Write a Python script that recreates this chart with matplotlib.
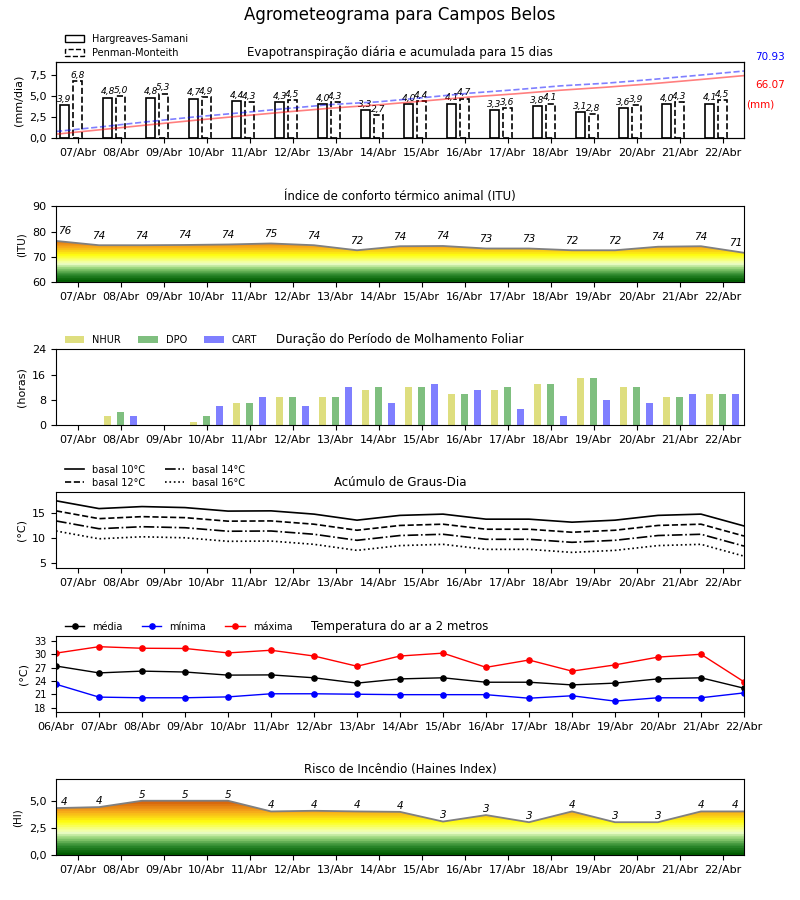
import numpy as np
import matplotlib
matplotlib.use('Agg')
import matplotlib.pyplot as plt
from matplotlib.patches import Patch, Polygon
from matplotlib.colors import LinearSegmentedColormap
from matplotlib.ticker import FuncFormatter

# dias
dias = ['07/Abr', '08/Abr', '09/Abr', '10/Abr', '11/Abr', '12/Abr', '13/Abr', '14/Abr',
        '15/Abr', '16/Abr', '17/Abr', '18/Abr', '19/Abr', '20/Abr', '21/Abr', '22/Abr']
dias_temp = ['06/Abr'] + dias

# evapotranspiração (mm/dia)
et_hs = [3.9, 4.8, 4.8, 4.7, 4.4, 4.3, 4.0, 3.3, 4.0, 4.1, 3.3, 3.8, 3.1, 3.6, 4.0, 4.1]
et_pm = [6.8, 5.0, 5.3, 4.9, 4.3, 4.5, 4.3, 2.7, 4.4, 4.7, 3.6, 4.1, 2.8, 3.9, 4.3, 4.5]
acc_hs = [4.0, 8.9, 13.8, 18.6, 23.1, 27.5, 31.6, 35.0, 39.1, 43.3, 46.7, 50.6, 53.8, 57.5, 61.7, 66.07]
acc_pm = [6.85, 11.9, 17.25, 22.2, 26.55, 31.1, 35.45, 38.2, 42.65, 47.4, 51.05, 55.2, 58.05, 62.0, 66.4, 70.93]

# ITU
itu = [76.3, 74.6, 74.6, 74.7, 74.9, 75.3, 74.6, 72.6, 74.2, 74.3, 73.3, 73.3, 72.6, 72.6, 74.0, 74.2, 71.6]

# molhamento foliar (horas)
nhur = [0, 3, 0, 1, 7, 9, 9, 11, 12, 10, 11, 13, 15, 12, 9, 10]
dpo = [0, 4, 0, 3, 7, 9, 9, 12, 12, 10, 12, 13, 15, 12, 9, 10]
cart = [0, 3, 0, 6, 9, 6, 12, 7, 13, 11, 5, 3, 8, 7, 10, 10]

# graus-dia
gd10 = [17.35, 15.8, 16.2, 16.0, 15.3, 15.35, 14.7, 13.5, 14.45, 14.7, 13.7, 13.7, 13.1, 13.5, 14.45, 14.7, 12.35]
gd12 = [15.35, 13.8, 14.2, 14.0, 13.3, 13.35, 12.7, 11.5, 12.45, 12.7, 11.7, 11.7, 11.1, 11.5, 12.45, 12.7, 10.35]
gd14 = [13.35, 11.8, 12.2, 12.0, 11.3, 11.35, 10.7, 9.5, 10.45, 10.7, 9.7, 9.7, 9.1, 9.5, 10.45, 10.7, 8.35]
gd16 = [11.35, 9.8, 10.2, 10.0, 9.3, 9.35, 8.7, 7.5, 8.45, 8.7, 7.7, 7.7, 7.1, 7.5, 8.45, 8.7, 6.35]

# temperatura (°C)
t_media = [27.35, 25.8, 26.2, 26.0, 25.3, 25.35, 24.7, 23.5, 24.45, 24.7, 23.7, 23.7, 23.1, 23.5, 24.45, 24.7, 22.35]
t_min = [23.25, 20.35, 20.2, 20.2, 20.4, 21.1, 21.1, 21.0, 20.9, 20.9, 20.9, 20.1, 20.65, 19.45, 20.2, 20.2, 21.3]
t_max = [30.25, 31.7, 31.35, 31.3, 30.3, 30.9, 29.6, 27.3, 29.6, 30.25, 27.05, 28.7, 26.2, 27.6, 29.35, 30.0, 23.8]

# Haines
haines = [4.35, 4.44, 5.03, 5.03, 5.03, 4.04, 4.1, 4.04, 4.0, 3.1, 3.7, 3.04, 4.04, 3.04, 3.04, 4.04, 4.04]

virgula = FuncFormatter(lambda v, p: ('%.1f' % v).replace('.', ','))

cmap_risco = LinearSegmentedColormap.from_list(
    'risco', [(0.0, '#005c00'), (0.15, '#2f8a2f'), (0.3, '#9ad67c'), (0.4, '#f0ffc8'),
              (0.6, '#ffff10'), (0.8, '#f6a51c'), (1.0, '#d0580a')], N=24)


def gradiente(ax, x, y, y0, vmin, vmax):
    x = np.asarray(x)
    y = np.asarray(y)
    verts = np.vstack([np.column_stack([x, y]), [[x[-1], y0], [x[0], y0]]])
    poly = Polygon(verts, closed=True, facecolor='none', edgecolor='none')
    ax.add_patch(poly)
    yy = np.linspace(y0, y.max(), 300).reshape(-1, 1)
    im = ax.imshow(yy, cmap=cmap_risco, vmin=vmin, vmax=vmax, aspect='auto', origin='lower',
                   extent=[x[0], x[-1], y0, y.max()], zorder=1)
    im.set_clip_path(poly)
    ax.plot(x, y, color='gray', lw=1.3, zorder=2)


fig = plt.figure(figsize=(8, 9), dpi=100)
fig.suptitle('Agrometeograma para Campos Belos', fontsize=12, y=0.993)

L, W, H = 0.07, 0.86, 0.0839
bases = [0.8467, 0.6867, 0.5278, 0.3689, 0.2089, 0.05]
axs = [fig.add_axes([L, b, W, H]) for b in bases]

xd = np.arange(len(dias))
xm = np.arange(len(itu)) - 0.5
leg_pos = (0.006, 1.0)

for ax in axs:
    ax.tick_params(labelsize=8)
    if ax is not axs[4]:
        ax.set_xlim(-0.5, 15.5)
        ax.set_xticks(xd)
        ax.set_xticklabels(dias)

# 1 - evapotranspiração
ax = axs[0]
ax.bar(xd - 0.3, et_hs, 0.2, facecolor='white', edgecolor='black', lw=1.2)
ax.bar(xd, et_pm, 0.2, facecolor='white', edgecolor='black', lw=1.2, linestyle='--')
for i in range(len(xd)):
    ax.text(xd[i] - 0.3, et_hs[i] + 0.15, ('%.1f' % et_hs[i]).replace('.', ','), ha='center',
            va='bottom', fontsize=6.5, style='italic')
    ax.text(xd[i], et_pm[i] + 0.15, ('%.1f' % et_pm[i]).replace('.', ','), ha='center',
            va='bottom', fontsize=6.5, style='italic')
ax.set_ylim(0, 9)
ax.set_yticks([0, 2.5, 5, 7.5])
ax.yaxis.set_major_formatter(virgula)
ax.set_ylabel('(mm/dia)', fontsize=8)
ax.set_title('Evapotranspiração diária e acumulada para 15 dias', fontsize=8.5, pad=5)
ax2 = ax.twinx()
xa = np.linspace(-0.5, 15.5, len(acc_hs))
ax2.plot(xa, acc_hs, color='red', alpha=0.5, lw=1.2)
ax2.plot(xa, acc_pm, color='blue', alpha=0.5, lw=1.2, ls='--')
ax2.set_ylim(0, 80)
ax2.set_yticks([])
ax.text(1.016, 1.07, '%.2f' % acc_pm[-1], color='blue', fontsize=7.5, transform=ax.transAxes, va='center')
ax.text(1.016, 0.70, '%.2f' % acc_hs[-1], color='red', fontsize=7.5, transform=ax.transAxes, va='center')
ax.text(1.003, 0.44, '(mm)', color='red', fontsize=7.5, transform=ax.transAxes, va='center')
ax.legend([Patch(facecolor='white', edgecolor='black'),
           Patch(facecolor='white', edgecolor='black', linestyle='--')],
          ['Hargreaves-Samani', 'Penman-Monteith'], loc='lower left', bbox_to_anchor=leg_pos,
          frameon=False, fontsize=7, borderaxespad=0.1, labelspacing=0.35)

# 2 - ITU
ax = axs[1]
gradiente(ax, xm, itu, 60, 60, 77.5)
for i in range(len(xm)):
    ax.text(min(max(xm[i], -0.3), 15.3), itu[i] + 1.8, '%d' % int(itu[i]), ha='center', va='bottom',
            fontsize=7.5, style='italic')
ax.set_ylim(60, 90)
ax.set_yticks([60, 70, 80, 90])
ax.set_ylabel('(ITU)', fontsize=7.5)
ax.set_title('Índice de conforto térmico animal (ITU)', fontsize=8.5, pad=5)

# 3 - molhamento foliar
ax = axs[2]
ax.bar(xd - 0.3, nhur, 0.16, color='y', alpha=0.5, label='NHUR')
ax.bar(xd, dpo, 0.16, color='g', alpha=0.5, label='DPO')
ax.bar(xd + 0.3, cart, 0.16, color='b', alpha=0.5, label='CART')
ax.set_ylim(0, 24)
ax.set_yticks([0, 8, 16, 24])
ax.set_ylabel('(horas)', fontsize=8)
ax.set_title('Duração do Período de Molhamento Foliar', fontsize=8.5, pad=5)
ax.legend(loc='lower left', bbox_to_anchor=leg_pos, ncol=3, frameon=False, fontsize=7,
          borderaxespad=0.1, columnspacing=1.8)

# 4 - graus-dia
ax = axs[3]
ax.plot(xm, gd10, color='black', lw=1.2, ls='-', label='basal 10°C')
ax.plot(xm, gd12, color='black', lw=1.2, ls='--', label='basal 12°C')
ax.plot(xm, gd14, color='black', lw=1.2, ls='-.', label='basal 14°C')
ax.plot(xm, gd16, color='black', lw=1.2, ls=':', label='basal 16°C')
ax.set_ylim(4, 19)
ax.set_yticks([5, 10, 15])
ax.set_ylabel('(°C)', fontsize=8)
ax.set_title('Acúmulo de Graus-Dia', fontsize=8.5, pad=5)
ax.legend(loc='lower left', bbox_to_anchor=leg_pos, ncol=2, frameon=False, fontsize=7,
          borderaxespad=0.1, labelspacing=0.3)

# 5 - temperatura
ax = axs[4]
xt = np.arange(len(dias_temp))
ax.plot(xt, t_media, color='black', marker='o', ms=3.8, lw=1, label='média')
ax.plot(xt, t_min, color='blue', marker='o', ms=3.8, lw=1, label='mínima')
ax.plot(xt, t_max, color='red', marker='o', ms=3.8, lw=1, label='máxima')
ax.set_xlim(0, 16)
ax.set_xticks(xt)
ax.set_xticklabels(dias_temp)
ax.set_ylim(17, 34)
ax.set_yticks([18, 21, 24, 27, 30, 33])
ax.tick_params(axis='y', labelsize=7)
ax.set_ylabel('(°C)', fontsize=8)
ax.set_title('Temperatura do ar a 2 metros', fontsize=8.5, pad=5)
ax.legend(loc='lower left', bbox_to_anchor=leg_pos, ncol=3, frameon=False, fontsize=7,
          borderaxespad=0.1, columnspacing=2.0)

# 6 - Haines
ax = axs[5]
gradiente(ax, xm, haines, 0, 0, 5.1)
for i in range(len(xm)):
    ax.text(min(max(xm[i], -0.3), 15.3), haines[i] + 0.1, '%d' % int(haines[i]), ha='center',
            va='bottom', fontsize=7.5, style='italic')
ax.set_ylim(0, 7)
ax.set_yticks([0, 2.5, 5])
ax.yaxis.set_major_formatter(virgula)
ax.set_ylabel('(HI)', fontsize=7.5)
ax.set_title('Risco de Incêndio (Haines Index)', fontsize=8.5, pad=5)

fig.savefig('out.png', dpi=100, facecolor='white')
